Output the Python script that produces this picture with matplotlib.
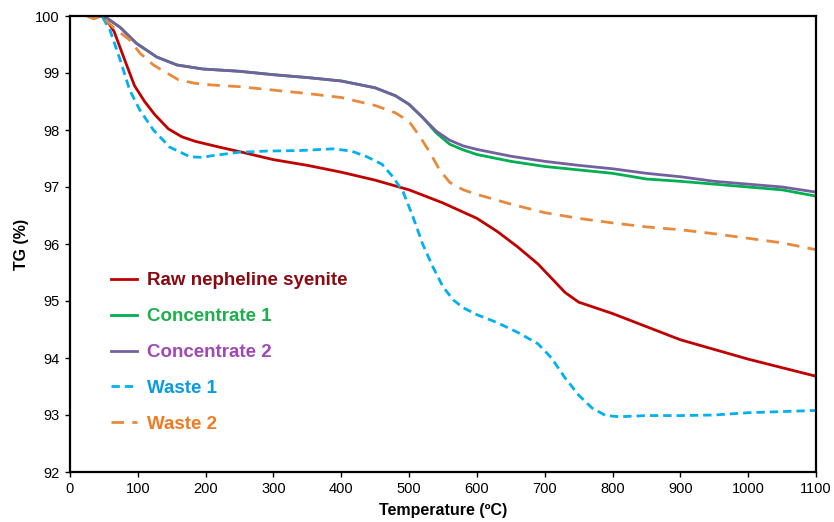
import matplotlib.pyplot as plt

# Temperature (C) / TG (%) readings for each sample
raw_t = [30, 50, 65, 80, 95, 110, 125, 145, 165, 185, 220, 250, 300, 350, 400, 450, 500, 550,
         600, 630, 660, 690, 710, 730, 750, 770, 800, 850, 900, 950, 1000, 1050, 1100]
raw_tg = [100, 100, 99.73, 99.25, 98.78, 98.5, 98.27, 98.02, 97.88, 97.8, 97.7, 97.62, 97.48,
          97.38, 97.26, 97.12, 96.95, 96.72, 96.45, 96.22, 95.95, 95.65, 95.4, 95.15, 94.98, 94.9,
          94.78, 94.55, 94.32, 94.15, 93.98, 93.83, 93.68]

conc_t = [30, 50, 74, 98, 128, 158, 196, 250, 300, 350, 400, 450, 480, 500, 520,
          540, 560, 580, 600, 650, 700, 750, 800, 850, 900, 950, 1000, 1050, 1100]
conc1_tg = [100, 100, 99.8, 99.52, 99.28, 99.14, 99.07, 99.03, 98.97, 98.92, 98.86, 98.74, 98.6,
            98.45, 98.22, 97.95, 97.75, 97.65, 97.57, 97.45, 97.36, 97.3, 97.24, 97.14, 97.1,
            97.05, 97.0, 96.95, 96.84]
conc2_tg = [100, 100, 99.8, 99.52, 99.28, 99.14, 99.07, 99.03, 98.97, 98.92, 98.86, 98.74, 98.6,
            98.45, 98.22, 97.98, 97.82, 97.72, 97.66, 97.54, 97.45, 97.38, 97.32, 97.24, 97.18,
            97.1, 97.05, 97.0, 96.91]

waste1_t = [30, 47, 59, 74, 88, 103, 123, 147, 177, 195, 210, 250, 290, 340, 388, 415, 438, 460,
            476, 491, 505, 520, 535, 550, 565, 580, 600, 630, 660, 690, 710, 730, 750, 770,
            790, 810, 850, 900, 950, 1000, 1050, 1100]
waste1_tg = [100, 100, 99.75, 99.23, 98.7, 98.35, 98.0, 97.7, 97.53, 97.52, 97.55, 97.61, 97.63,
             97.64, 97.67, 97.63, 97.53, 97.4, 97.18, 96.92, 96.5, 96.0, 95.6, 95.25, 95.02, 94.88,
             94.76, 94.62, 94.45, 94.25, 94.0, 93.65, 93.35, 93.12, 92.99, 92.97, 92.99,
             92.99, 93.0, 93.04, 93.06, 93.08]

waste2_t = [25, 35, 47, 64, 88, 103, 123, 160, 184, 209, 250, 300, 350, 400, 450, 480, 500,
            515, 530, 545, 560, 580, 600, 650, 700, 750, 800, 850, 900, 950, 1000, 1050, 1100]
waste2_tg = [100, 99.95, 100, 99.8, 99.58, 99.35, 99.14, 98.88, 98.82, 98.79, 98.76, 98.7,
             98.64, 98.57, 98.43, 98.3, 98.15, 97.9, 97.62, 97.3, 97.08, 96.95, 96.87, 96.7, 96.55,
             96.45, 96.37, 96.3, 96.25, 96.18, 96.1, 96.02, 95.9]

labels = ["Raw nepheline syenite", "Concentrate 1", "Concentrate 2", "Waste 1", "Waste 2"]
text_colors = ["#8B0A12", "#1DAF4A", "#A048B4", "#0A9BE0", "#F07A22"]

plt.rcParams['font.family'] = ['Liberation Sans', 'DejaVu Sans']

fig = plt.figure(figsize=(8.34, 5.22), dpi=100)
ax = fig.add_axes([70 / 834, 50 / 522, 746 / 834, 456 / 522])

ax.plot(raw_t, raw_tg, color="#C00000", lw=2, label=labels[0])
ax.plot(conc_t, conc1_tg, color="#00B050", lw=2, label=labels[1])
ax.plot(conc_t, conc2_tg, color="#7460A0", lw=2, label=labels[2])
ax.plot(waste1_t, waste1_tg, color="#00B0F0", lw=2, dashes=(3, 1.8), label=labels[3])
ax.plot(waste2_t, waste2_tg, color="#E8893E", lw=2, dashes=(4.5, 3), label=labels[4])

ax.set_xlim(0, 1100)
ax.set_ylim(92, 100)
ax.set_xticks(range(0, 1101, 100))
ax.set_yticks(range(92, 101))
ax.tick_params(direction="out", length=3.5, width=1, labelsize=10.5, pad=4)
for s in ax.spines.values():
    s.set_linewidth(1.6)

ax.set_xlabel("Temperature (ºC)", fontsize=11.5, fontweight="bold", labelpad=5)
ax.set_ylabel("TG (%)", fontsize=11.5, fontweight="bold", labelpad=4)

leg = ax.legend(loc="upper left", bbox_to_anchor=(0.033, 0.475), frameon=False,
                handlelength=1.35, handletextpad=0.55, labelspacing=1.0,
                prop={"weight": "bold", "size": 13.5}, labelcolor=text_colors)

fig.savefig("out.png", dpi=100)
